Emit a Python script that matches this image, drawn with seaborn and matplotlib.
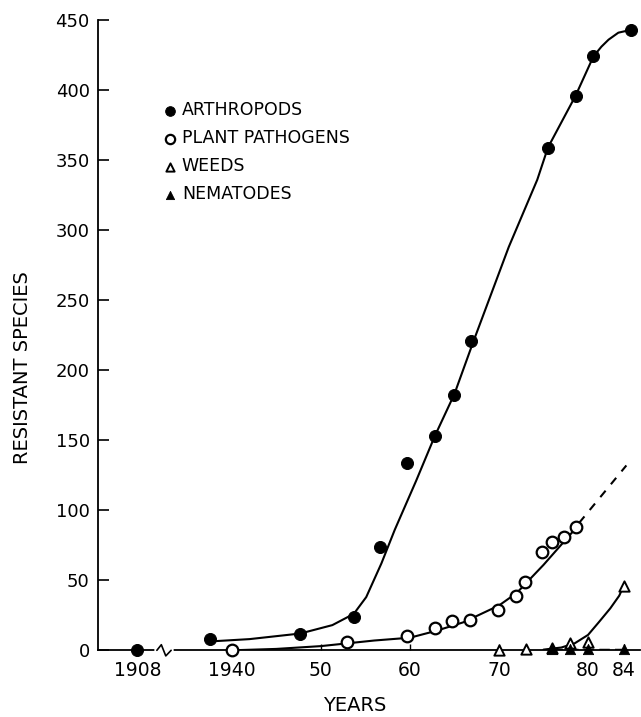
import matplotlib
matplotlib.use("Agg")
import matplotlib.pyplot as plt
import seaborn as sns

# points (year, resistant species)
arthro_years = [1908, 1937.6, 1947.7, 1953.7, 1956.7, 1959.7, 1962.8, 1965.0, 1966.9, 1975.5, 1978.6, 1980.6, 1984.8]
arthro_vals = [0, 8, 12, 24, 74, 134, 153, 182, 221, 359, 396, 424, 443]

patho_years = [1940, 1952.9, 1959.7, 1962.8, 1964.7, 1966.8, 1969.9, 1971.9, 1972.9, 1974.8, 1976.0, 1977.3, 1978.6]
patho_vals = [0, 6, 10, 16, 21, 22, 29, 39, 49, 70, 77, 81, 88]

weed_years = [1970, 1973, 1976, 1978, 1980, 1984]
weed_vals = [0, 1, 2, 5, 6, 46]

nema_years = [1976, 1978, 1980, 1984]
nema_vals = [1, 1, 1, 1]

# hand drawn trend curves, also
arthro_curve_x = [1938, 1942, 1947.7, 1951.3, 1953.7, 1955.1, 1956.8, 1958.3, 1960.7, 1962.8, 1965,
                  1967.1, 1971.1, 1974.3, 1975.5, 1978.6, 1980.6, 1981.5, 1982.3, 1983.4, 1984.8]
arthro_curve_y = [6.5, 8, 12, 18, 26, 38, 62, 86, 121, 153, 183, 220, 288, 336, 359, 396, 424, 431, 436, 441, 443]

patho_curve_x = [1940, 1945, 1950, 1953, 1956, 1960, 1963, 1966, 1970, 1972, 1975, 1978.6, 1979]
patho_curve_y = [0, 1, 3, 5, 7, 9, 14, 20, 32, 41, 61, 87, 91]
patho_dash_x = [1979, 1984.3]
patho_dash_y = [91, 132]

weed_curve_x = [1975, 1977, 1978.5, 1980, 1981.2, 1982.5, 1983.5, 1984]
weed_curve_y = [0.5, 2, 5, 11, 20, 30, 39, 46]

nema_line_x = [1976, 1984]
nema_line_y = [0.5, 0.5]

tick_years = [1908, 1940, 1950, 1960, 1970, 1980, 1984]
tick_labels = ["1908", "1940", "50", "60", "70", "80", "84"]
y_ticks = [0, 50, 100, 150, 200, 250, 300, 350, 400, 450]

BREAK_POS = 1929.4  # where 1908 sits on the broken axis


def pos(years):
    return [BREAK_POS if y < 1930 else y for y in years]


sns.set_style("ticks")
plt.rcParams["font.family"] = ["DejaVu Sans"]
plt.rcParams.update({"text.color": "black", "axes.labelcolor": "black",
                     "xtick.color": "black", "ytick.color": "black", "axes.edgecolor": "black"})

fig = plt.figure(figsize=(6.41, 7.17), dpi=100)
ax = fig.add_axes([0.153, 0.093, 0.845, 0.879])

# curves
sns.lineplot(x=arthro_curve_x, y=arthro_curve_y, color="black", lw=1.5, ax=ax, sort=False)
sns.lineplot(x=patho_curve_x, y=patho_curve_y, color="black", lw=1.5, ax=ax, sort=False)
ax.plot(patho_dash_x, patho_dash_y, color="black", lw=1.5, ls=(0, (4, 4)))
sns.lineplot(x=weed_curve_x, y=weed_curve_y, color="black", lw=1.5, ax=ax, sort=False)
ax.plot(nema_line_x, nema_line_y, color="black", lw=2.5, ls=(0, (3, 1.5)))

# points
sns.scatterplot(x=pos(arthro_years), y=arthro_vals, marker="o", s=75, color="black",
                edgecolor="black", label="ARTHROPODS", ax=ax, zorder=4, clip_on=False)
sns.scatterplot(x=pos(patho_years), y=patho_vals, marker="o", s=70, color="white",
                edgecolor="black", linewidth=1.6, label="PLANT PATHOGENS", ax=ax, zorder=4, clip_on=False)
sns.scatterplot(x=weed_years, y=weed_vals, marker="^", s=55, color="white",
                edgecolor="black", linewidth=1.4, label="WEEDS", ax=ax, zorder=4, clip_on=False)
sns.scatterplot(x=nema_years, y=nema_vals, marker="^", s=55, color="black",
                edgecolor="black", label="NEMATODES", ax=ax, zorder=5, clip_on=False)

ax.set_xlim(1925, 1985.8)
ax.set_ylim(0, 450)
ax.set_yticks(y_ticks)
ax.set_xticks(pos(tick_years))
ax.set_xticklabels(tick_labels)
ax.tick_params(axis="y", direction="in", length=8, width=1.2, labelsize=13, pad=6)
ax.tick_params(axis="x", direction="in", length=4, width=1.0, labelsize=13.5, pad=8)
for s in ["top", "right"]:
    ax.spines[s].set_visible(False)
for s in ["left", "bottom"]:
    ax.spines[s].set_linewidth(1.3)

# axis break
ax.plot([1931.6, 1933.2], [0, 0], color="white", lw=4, zorder=3, clip_on=False)
ax.plot([1931.6, 1932.1, 1932.6, 1933.2], [0, 4, -4, 0], color="black", lw=1.2,
        zorder=3.5, clip_on=False)

ax.set_xlabel("YEARS", fontsize=14)
ax.set_ylabel("RESISTANT SPECIES", fontsize=14)
ax.xaxis.set_label_coords(0.474, -0.073)
ax.yaxis.set_label_coords(-0.122, 0.449)

leg = ax.legend(loc="upper left", bbox_to_anchor=(0.1, 0.885), frameon=False, fontsize=12.5,
                handletextpad=0.2, labelspacing=0.58, markerscale=0.8, borderpad=0, handlelength=1)

fig.savefig("out.png", dpi=100)
